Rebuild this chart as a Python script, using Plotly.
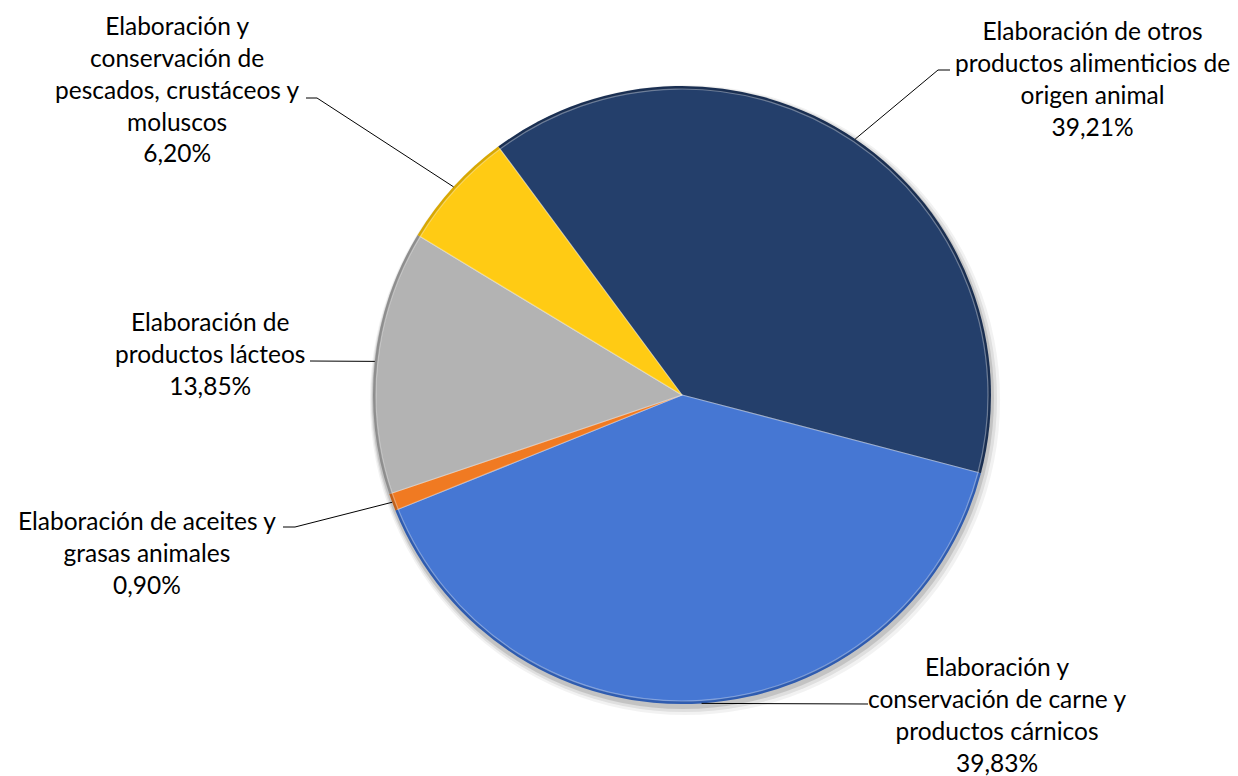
import math
import plotly.graph_objects as go

# ---- data ----
categories = [
    "Elaboración de otros productos alimenticios de origen animal",
    "Elaboración y conservación de carne y productos cárnicos",
    "Elaboración de aceites y grasas animales",
    "Elaboración de productos lácteos",
    "Elaboración y conservación de pescados, crustáceos y moluscos",
]
label_lines = [
    "Elaboración de otros<br>productos alimenticios de<br>origen animal",
    "Elaboración y<br>conservación de carne y<br>productos cárnicos",
    "Elaboración de aceites y<br>grasas animales",
    "Elaboración de<br>productos lácteos",
    "Elaboración y<br>conservación de<br>pescados, crustáceos y<br>moluscos",
]
values = [39.21, 39.83, 0.90, 13.85, 6.20]
pct_labels = ["39,21%", "39,83%", "0,90%", "13,85%", "6,20%"]
colors = ["#243F6B", "#4677D3", "#F07A22", "#B3B3B3", "#FFCB14"]
edge_colors = ["#1A2F52", "#2F5CB0", "#C0601A", "#8E8E8E", "#D9A800"]

# ---- layout geometry (pixels, reference page coordinates) ----
OFF = 8                      # browser body margin
W, H = 1238 - OFF, 776 - OFF
CX, CY, R = 682, 395, 309
ROTATION = -36.5

# label centre (x, y) for each text block
label_pos = [(1092, 78), (997, 714), (147, 552), (210, 354), (177, 89)]
# elbow point and end of horizontal tick for each leader line
elbows = [
    ((938, 70), (950, 70)),
    ((868, 704), (868, 704)),
    ((295, 527), (283, 527)),
    ((310, 361), (310, 361)),
    ((317, 98), (306, 98)),
]


def px(x):
    return (x - OFF) / W


def py(y):
    return 1 - (y - OFF) / H


def dom(cx, cy, r):
    return dict(x=[px(cx - r), px(cx + r)], y=[py(cy + r), py(cy - r)])


traces = []
# soft drop shadow
for dr, dx, dy, a in [(6, 3, 5, 0.05), (4, 2, 4, 0.08), (2, 1, 3, 0.12)]:
    traces.append(go.Pie(
        values=[1], sort=False, textinfo="none", hoverinfo="skip",
        marker=dict(colors=[f"rgba(0,0,0,{a})"], line=dict(width=0)),
        showlegend=False, domain=dom(CX + dx, CY + dy, R + dr),
    ))
# darker rim layer
traces.append(go.Pie(
    labels=categories, values=values, sort=False, direction="clockwise",
    rotation=ROTATION, textinfo="none", hoverinfo="skip", showlegend=False,
    marker=dict(colors=edge_colors, line=dict(width=0)),
    domain=dom(CX, CY, R),
))
# main slices
traces.append(go.Pie(
    labels=categories, values=values, sort=False, direction="clockwise",
    rotation=ROTATION, textinfo="none", hoverinfo="label+percent", showlegend=False,
    marker=dict(colors=colors, line=dict(color="rgba(255,255,255,0.35)", width=1.2)),
    domain=dom(CX, CY, R - 3),
))

fig = go.Figure(traces)

total = sum(values)
shapes = []
annotations = []
start = ROTATION
for i, v in enumerate(values):
    span = v / total * 360
    mid = math.radians(start + span / 2)
    start += span
    ex = CX + R * math.sin(mid)
    ey = CY - R * math.cos(mid)
    (bx, by), (tx, ty) = elbows[i]
    shapes.append(dict(
        type="path", xref="paper", yref="paper",
        path=f"M {px(ex)},{py(ey)} L {px(bx)},{py(by)} L {px(tx)},{py(ty)}",
        line=dict(color="black", width=1),
    ))
    lx, ly = label_pos[i]
    annotations.append(dict(
        x=px(lx), y=py(ly), xref="paper", yref="paper",
        xanchor="center", yanchor="middle", align="center",
        text=label_lines[i] + "<br>" + pct_labels[i],
        showarrow=False,
        font=dict(family="Lato", size=24.5, color="#000000"),
    ))

fig.update_layout(
    width=W, height=H,
    margin=dict(l=0, r=0, t=0, b=0),
    paper_bgcolor="white",
    plot_bgcolor="white",
    shapes=shapes,
    annotations=annotations,
)

fig.write_html("out.html")
